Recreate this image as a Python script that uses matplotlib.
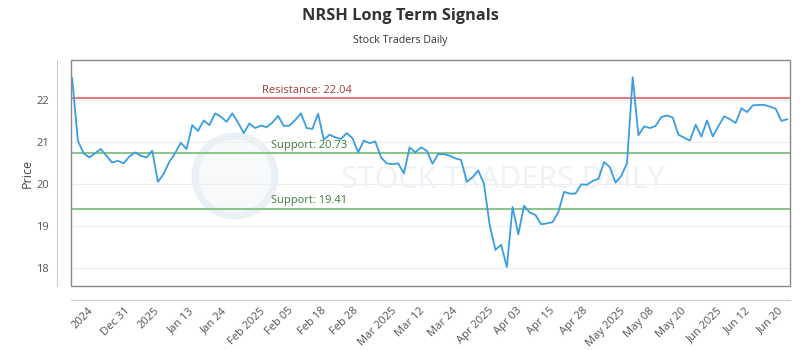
import matplotlib.pyplot as plt
import numpy as np
from matplotlib.patches import Ellipse

# daily closes
prices = [
    22.52, 21.03, 20.73, 20.63, 20.73, 20.83, 20.67, 20.51, 20.55, 20.49,
    20.65, 20.75, 20.67, 20.63, 20.79, 20.05, 20.24, 20.53, 20.73, 20.98,
    20.83, 21.40, 21.26, 21.51, 21.40, 21.68, 21.60, 21.48, 21.68, 21.46,
    21.21, 21.44, 21.33, 21.39, 21.35, 21.46, 21.62, 21.38, 21.39, 21.52,
    21.68, 21.33, 21.31, 21.67, 21.05, 21.17, 21.11, 21.07, 21.21, 21.09,
    20.75, 21.03, 20.97, 21.01, 20.63, 20.49, 20.47, 20.49, 20.25, 20.87,
    20.75, 20.87, 20.79, 20.48, 20.71, 20.71, 20.67, 20.61, 20.57, 20.05,
    20.16, 20.32, 20.00, 19.02, 18.43, 18.55, 18.02, 19.45, 18.80, 19.48,
    19.32, 19.26, 19.04, 19.06, 19.09, 19.33, 19.81, 19.77, 19.77, 19.99,
    19.98, 20.07, 20.12, 20.52, 20.40, 20.03, 20.19, 20.49, 22.54, 21.16,
    21.37, 21.33, 21.38, 21.59, 21.63, 21.58, 21.17, 21.10, 21.03, 21.41,
    21.13, 21.51, 21.13, 21.38, 21.61, 21.54, 21.45, 21.80, 21.71, 21.87,
    21.88, 21.88, 21.84, 21.79, 21.50, 21.54,
]
tick_labels = [
    "2024", "Dec 31", "2025", "Jan 13", "Jan 24", "Feb 2025", "Feb 05",
    "Feb 18", "Feb 28", "Mar 2025", "Mar 12", "Mar 24", "Apr 2025", "Apr 03",
    "Apr 15", "Apr 28", "May 2025", "May 08", "May 20", "Jun 2025", "Jun 12",
    "Jun 20",
]
resistance = 22.04
supports = [20.73, 19.41]

plt.rcParams['font.family'] = ['Open Sans', 'DejaVu Sans']

fig = plt.figure(figsize=(8, 3.5), dpi=100)
ax = fig.add_axes([71 / 800, 1 - 286 / 350, 719 / 800, 226 / 350])

x = np.arange(len(prices))

# faint watermark
ax.add_patch(Ellipse((235 / 800, 1 - 176 / 350), 80 / 800, 80 / 350,
                     transform=fig.transFigure, facecolor='#f7f9fb',
                     edgecolor='#eaf0f5', lw=5, zorder=0.5))
ax.text(0.6, 0.47, "STOCK TRADERS DAILY", transform=ax.transAxes,
        ha='center', va='center', fontsize=22, color='#eef2f6', zorder=0.6)

ax.plot(x, prices, color='#3a9de0', lw=1.3, zorder=3)

ax.axhline(resistance, color='#e57d7d', lw=1.5, zorder=2)
ax.text(0.328, resistance + 0.06, f"Resistance: {resistance:.2f}",
        transform=ax.get_yaxis_transform(), ha='center', va='bottom',
        fontsize=8, color='#a33a3a')
for s in supports:
    ax.axhline(s, color='#8cc58c', lw=1.5, zorder=2)
    ax.text(0.331, s + 0.06, f"Support: {s:.2f}",
            transform=ax.get_yaxis_transform(), ha='center', va='bottom',
            fontsize=8, color='#3f7a3f')

ax.set_xlim(-0.2, len(prices) - 0.5)
ax.set_ylim(17.57, 22.95)
ax.set_yticks([18, 19, 20, 21, 22])
ax.yaxis.grid(True, color='#eeeeee', lw=0.8)
ax.set_axisbelow(True)

ax.set_xticks(np.linspace(1.9, 122.0, len(tick_labels)))
ax.set_xticklabels(tick_labels)
ax.tick_params(axis='both', length=0, labelsize=8, labelcolor='#555555')
ax.tick_params(axis='x', pad=4, labelrotation=45)
ax.tick_params(axis='y', pad=6)
plt.setp(ax.get_xticklabels(), ha='right', va='top', rotation_mode='anchor')
ax.set_ylabel("Price", fontsize=9, color='#444444', labelpad=2)

for side in ['top', 'right']:
    ax.spines[side].set_visible(False)
for side in ['left', 'bottom']:
    ax.spines[side].set_position(('outward', 10))
    ax.spines[side].set_color('#cccccc')
# plot area border
ax.add_patch(plt.Rectangle((0, 0), 1, 1, transform=ax.transAxes, fill=False,
                           edgecolor='#888888', lw=1, clip_on=False, zorder=4))

fig.text(0.5, 1 - 16 / 350, "NRSH Long Term Signals", ha='center',
         va='center', fontsize=11.8, fontweight='bold', color='#333333')
fig.text(0.5, 1 - 40 / 350, "Stock Traders Daily", ha='center',
         va='center', fontsize=7.7, color='#333333')

fig.savefig("out.png", dpi=100)
